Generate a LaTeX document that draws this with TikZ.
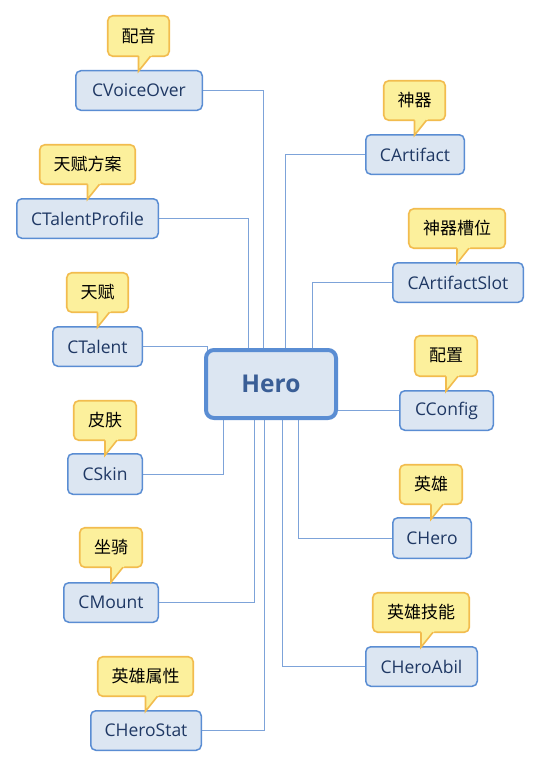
\documentclass[tikz,border=0pt]{standalone}
\usepackage{fontspec}
\setmainfont{Open Sans}
\newfontfamily\cjk{Noto Sans CJK SC}
\usetikzlibrary{backgrounds}
\definecolor{nodefill}{HTML}{DCE6F2}
\definecolor{nodeborder}{HTML}{5A8DD3}
\definecolor{nodetext}{HTML}{1F3864}
\definecolor{herotext}{HTML}{3A5E96}
\definecolor{callfill}{HTML}{FCF09C}
\definecolor{callborder}{HTML}{F2BC4E}
\definecolor{linecol}{HTML}{7DA3D9}
\tikzset{
  clsbox/.style={draw=nodeborder, fill=nodefill, line width=1.5pt, rounded corners=5pt,
    text=nodetext, font=\fontsize{17.5}{21}\selectfont, inner sep=0pt},
  herobox/.style={draw=nodeborder, fill=nodefill, line width=4pt, rounded corners=8pt,
    text=herotext, font=\bfseries\fontsize{24.5}{28}\selectfont, inner sep=0pt},
  callbox/.style={draw=callborder, fill=callfill, line width=1.6pt, rounded corners=5pt},
  callfillonly/.style={fill=callfill},
  calledge/.style={draw=callborder, line width=1.6pt, line join=miter},
  calltext/.style={font=\cjk\fontsize{17}{20}\selectfont, text=black, inner sep=0pt},
  conn/.style={draw=linecol, line width=1pt}
}
% class box: name, L, T, R, B, text
\newcommand\myclass[6]{%
  \node[clsbox, minimum width={#4-#2-1.5}, minimum height={#5-#3-1.5}]
    (#1) at ({(#2+#4)/2},{(#3+#5)/2}) {#6};}
% callout: name, L, T, R, B, text
\newcommand\mycallout[6]{%
  \path[callbox] ({#2+0.75},{#3+0.75}) rectangle ({#4-0.75},{#5-0.75});
  \path[callfillonly] ({(#2+#4)/2},{#5-1.8}) -- ({(#2+#4)/2+13.4},{#5-1.8})
    -- ({(#2+#4)/2},{#5+14.2}) -- cycle;
  \path[calledge] ({(#2+#4)/2},{#5-0.75}) -- ({(#2+#4)/2},{#5+14.2})
    -- ({(#2+#4)/2+12},{#5-0.75});
  \node[calltext] (#1) at ({(#2+#4)/2},{(#3+#5)/2-0.5}) {#6};}
\begin{document}
\begin{tikzpicture}[x=1pt,y=-1pt]
\useasboundingbox (0,0) rectangle (541,768);

\node[herobox, minimum width=130, minimum height=68] (hero) at (271,384) {Hero};

\myclass{voice}{75}{70}{203}{111}{CVoiceOver}
\myclass{tprof}{16}{198}{159}{239}{CTalentProfile}
\myclass{talent}{52}{326}{143}{367}{CTalent}
\myclass{skin}{67}{453}{143}{495}{CSkin}
\myclass{mount}{63}{582}{159}{623}{CMount}
\myclass{hstat}{90}{710}{202}{751}{CHeroStat}
\myclass{artifact}{365}{134}{465}{175}{CArtifact}
\myclass{aslot}{392}{262}{524}{303}{CArtifactSlot}
\myclass{config}{399}{390}{494}{431}{CConfig}
\myclass{chero}{392}{517}{472}{559}{CHero}
\myclass{habil}{365}{646}{478}{687}{CHeroAbil}

\mycallout{c1}{107}{15}{170}{57}{配音}
\mycallout{c2}{39}{144}{136}{185}{天赋方案}
\mycallout{c3}{66}{272}{129}{313}{天赋}
\mycallout{c4}{73}{400}{137}{441}{皮肤}
\mycallout{c5}{79}{527}{143}{568}{坐骑}
\mycallout{c6}{97}{656}{194}{697}{英雄属性}
\mycallout{c7}{383}{80}{446}{121}{神器}
\mycallout{c8}{408}{208}{506}{249}{神器槽位}
\mycallout{c9}{414}{335}{478}{377}{配置}
\mycallout{c10}{399}{464}{463}{505}{英雄}
\mycallout{c11}{372}{592}{470}{633}{英雄技能}

\begin{scope}[on background layer]
  \fill[white] (0,0) rectangle (541,768);
  \draw[conn] (voice.east) -| ([xshift=59]hero.north west);
  \draw[conn] (tprof.east) -| ([xshift=44]hero.north west);
  \draw[conn] (talent.east) -| ([xshift=3,yshift=-8]hero.north west);
  \draw[conn] (artifact.west) -| ([xshift=81]hero.north west);
  \draw[conn] (aslot.west) -| ([xshift=108]hero.north west);
  \draw[conn] (config.west) -- (config.west -| hero.east);
  \draw[conn] (skin.east) -| ([xshift=19]hero.south west);
  \draw[conn] (mount.east) -| ([xshift=50]hero.south west);
  \draw[conn] (hstat.east) -| ([xshift=60]hero.south west);
  \draw[conn] (habil.west) -| ([xshift=78]hero.south west);
  \draw[conn] (chero.west) -| ([xshift=94]hero.south west);
\end{scope}
\end{tikzpicture}
\end{document}
